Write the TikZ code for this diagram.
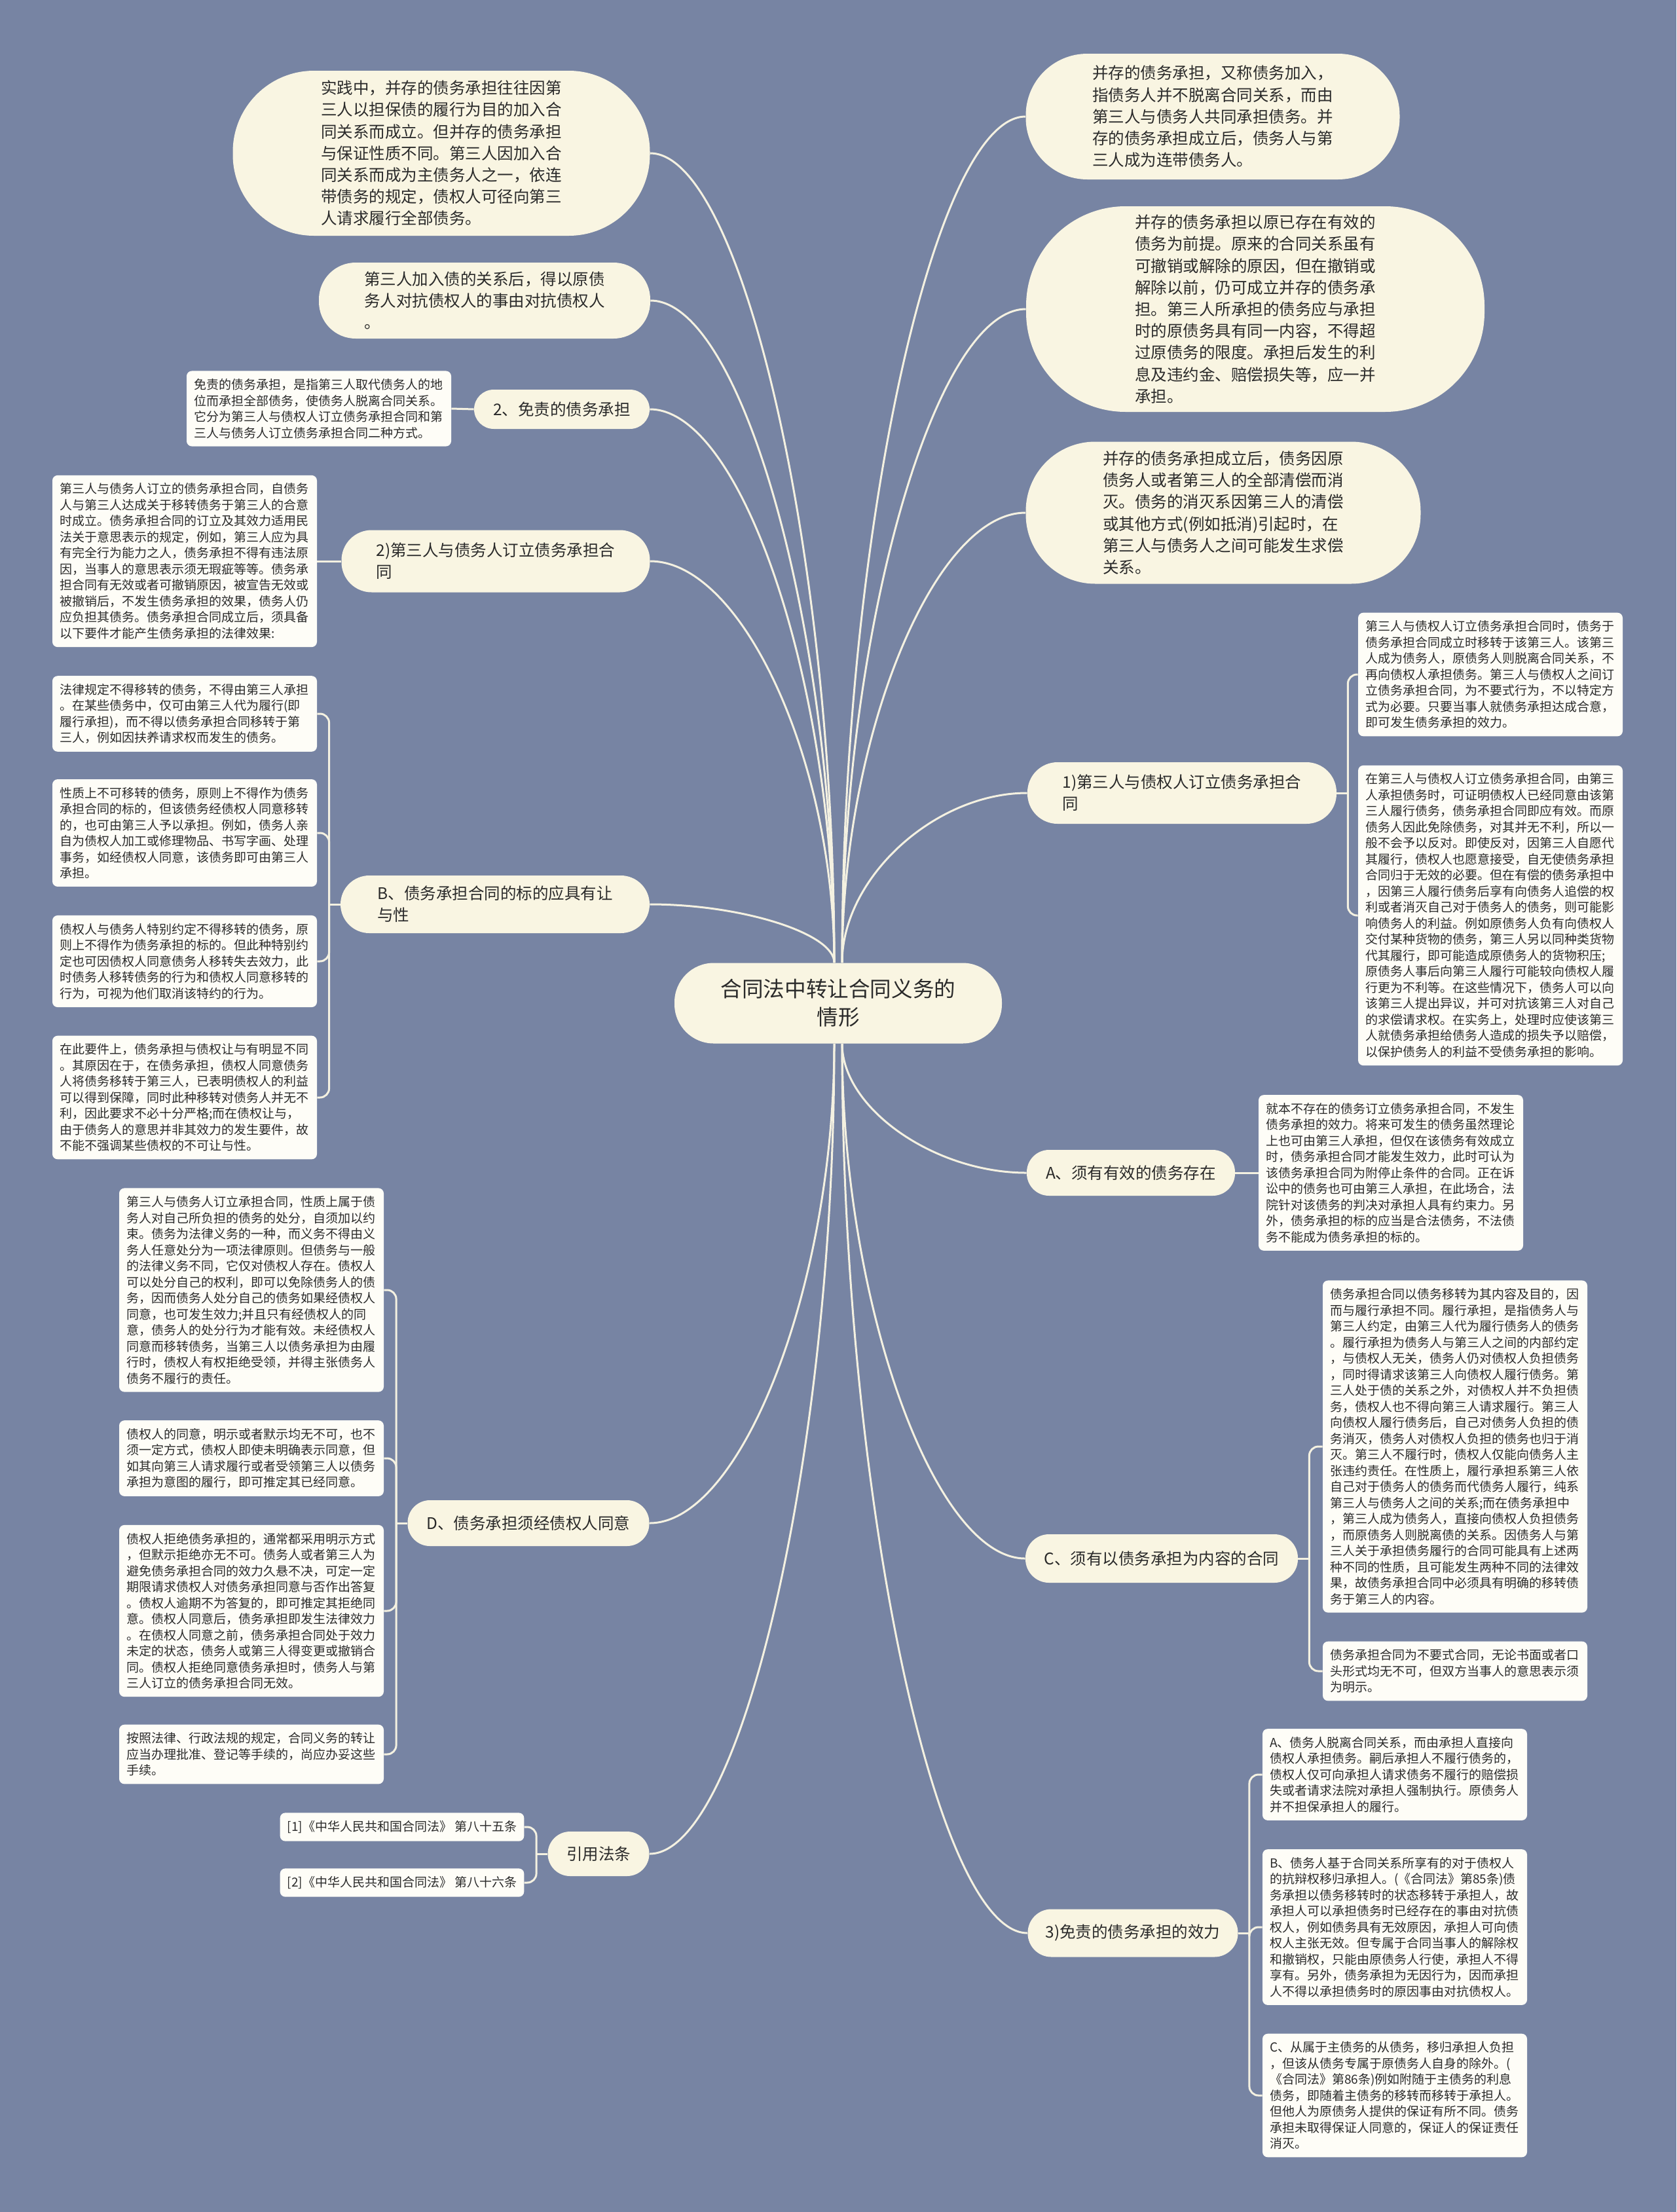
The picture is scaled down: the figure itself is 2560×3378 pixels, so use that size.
\documentclass[tikz,border=0pt]{standalone}
\usepackage{fontspec}
\setmainfont{Noto Sans CJK SC}
\usetikzlibrary{calc}
\definecolor{bgc}{HTML}{7784A3}
\definecolor{cream}{HTML}{F9F5E2}
\definecolor{leafc}{HTML}{FEFDF7}
\definecolor{linec}{HTML}{F4F1E1}
\definecolor{txt}{HTML}{2A2A2A}
\pgfdeclarelayer{bg}
\pgfsetlayers{bg,main}
\newcommand{\mmlink}[2]{\draw[conn] (#1) .. controls ($(#1)!0.5!(#1|-#2)$) and ($(#1|-#2)!0.5!(#2)$) .. (#2);}
\begin{document}
\begin{tikzpicture}[x=0.5pt,y=-0.5pt,
  conn/.style={draw=linec, line width=1.5pt},
  leaf/.style={fill=leafc, rounded corners=4pt, align=left, text width=191pt, inner xsep=5.5pt, inner ysep=6pt, text=txt, font=\fontsize{9.5}{12.25}\selectfont},
  cite/.style={fill=leafc, rounded corners=4pt, align=left, inner xsep=5.5pt, inner ysep=6pt, text=txt, font=\fontsize{9.5}{12.25}\selectfont},
  bubble/.style={fill=cream, align=left, text=txt, font=\fontsize{12.25}{16.6}\selectfont, inner sep=0pt},
  branch/.style={fill=cream, align=left, text=txt, font=\fontsize{12.25}{16.5}\selectfont, inner sep=0pt},
]
\begin{pgfonlayer}{bg}
\fill[bgc] (0,0) rectangle (2560,3378);
\end{pgfonlayer}
\useasboundingbox (0,0) rectangle (2560,3378);

% central
\node[fill=cream, align=center, text=txt, font=\fontsize{16.3}{21.5}\selectfont, inner sep=0pt, minimum width=250pt, minimum height=61.5pt, rounded corners=30pt] (C) at (1280,1532) {合同法中转让合同义务的\\情形};

% right bubbles
\node[bubble, minimum width=285.5pt, minimum height=96pt, rounded corners=47pt] (R1) at (1852,178) {并存的债务承担，又称债务加入，\\指债务人并不脱离合同关系，而由\\第三人与债务人共同承担债务。并\\存的债务承担成立后，债务人与第\\三人成为连带债务人。};
\node[bubble, minimum width=350pt, minimum height=157pt, rounded corners=76pt] (R2) at (1917,472) {并存的债务承担以原已存在有效的\\债务为前提。原来的合同关系虽有\\可撤销或解除的原因，但在撤销或\\解除以前，仍可成立并存的债务承\\担。第三人所承担的债务应与承担\\时的原债务具有同一内容，不得超\\过原债务的限度。承担后发生的利\\息及违约金、赔偿损失等，应一并\\承担。};
\node[bubble, minimum width=301.5pt, minimum height=108.5pt, rounded corners=53pt] (R3) at (1868,783) {并存的债务承担成立后，债务因原\\债务人或者第三人的全部清偿而消\\灭。债务的消灭系因第三人的清偿\\或其他方式(例如抵消)引起时，在\\第三人与债务人之间可能发生求偿\\关系。};

% left bubbles
\node[bubble, minimum width=318.5pt, minimum height=126pt, rounded corners=62pt] (L1) at (674,234) {实践中，并存的债务承担往往因第\\三人以担保债的履行为目的加入合\\同关系而成立。但并存的债务承担\\与保证性质不同。第三人因加入合\\同关系而成为主债务人之一，依连\\带债务的规定，债权人可径向第三\\人请求履行全部债务。};
\node[bubble, minimum width=253pt, minimum height=58pt, rounded corners=28pt] (L2) at (740,459) {第三人加入债的关系后，得以原债\\务人对抗债权人的事由对抗债权人\\。};

% branch nodes
\node[branch, minimum width=236pt, minimum height=47pt, rounded corners=23pt] (R4) at (1805,1211) {1)第三人与债权人订立债务承担合\\同};
\node[branch, minimum width=159pt, minimum height=35pt, rounded corners=17pt] (R5) at (1727,1791) {A、须有有效的债务存在};
\node[branch, minimum width=208pt, minimum height=37pt, rounded corners=18pt] (R6) at (1774,2380) {C、须有以债务承担为内容的合同};
\node[branch, minimum width=160.5pt, minimum height=36.5pt, rounded corners=18pt] (R7) at (1730,2952) {3)免责的债务承担的效力};
\node[branch, minimum width=134pt, minimum height=30pt, rounded corners=15pt] (L3) at (858,625) {2、免责的债务承担};
\node[branch, minimum width=235.5pt, minimum height=47.5pt, rounded corners=23pt] (L4) at (757,857) {2)第三人与债务人订立债务承担合\\同};
\node[branch, minimum width=236pt, minimum height=44pt, rounded corners=22pt] (L5) at (756,1381) {B、债务承担合同的标的应具有让\\与性};
\node[branch, minimum width=184.5pt, minimum height=35pt, rounded corners=17pt] (L6) at (807,2326) {D、债务承担须经债权人同意};
\node[branch, minimum width=77.5pt, minimum height=34pt, rounded corners=17pt] (L7) at (914,2831) {引用法条};

% right leaves
\node[leaf] (R4a) at (2276,1030) {第三人与债权人订立债务承担合同时，债务于\\债务承担合同成立时移转于该第三人。该第三\\人成为债务人，原债务人则脱离合同关系，不\\再向债权人承担债务。第三人与债权人之间订\\立债务承担合同，为不要式行为，不以特定方\\式为必要。只要当事人就债务承担达成合意，\\即可发生债务承担的效力。};
\node[leaf] (R4b) at (2276,1398) {在第三人与债权人订立债务承担合同，由第三\\人承担债务时，可证明债权人已经同意由该第\\三人履行债务，债务承担合同即应有效。而原\\债务人因此免除债务，对其并无不利，所以一\\般不会予以反对。即使反对，因第三人自愿代\\其履行，债权人也愿意接受，自无使债务承担\\合同归于无效的必要。但在有偿的债务承担中\\，因第三人履行债务后享有向债务人追偿的权\\利或者消灭自己对于债务人的债务，则可能影\\响债务人的利益。例如原债务人负有向债权人\\交付某种货物的债务，第三人另以同种类货物\\代其履行，即可能造成原债务人的货物积压;\\原债务人事后向第三人履行可能较向债权人履\\行更为不利等。在这些情况下，债务人可以向\\该第三人提出异议，并可对抗该第三人对自己\\的求偿请求权。在实务上，处理时应使该第三\\人就债务承担给债务人造成的损失予以赔偿，\\以保护债务人的利益不受债务承担的影响。};
\node[leaf] (R5a) at (2124,1791) {就本不存在的债务订立债务承担合同，不发生\\债务承担的效力。将来可发生的债务虽然理论\\上也可由第三人承担，但仅在该债务有效成立\\时，债务承担合同才能发生效力，此时可认为\\该债务承担合同为附停止条件的合同。正在诉\\讼中的债务也可由第三人承担，在此场合，法\\院针对该债务的判决对承担人具有约束力。另\\外，债务承担的标的应当是合法债务，不法债\\务不能成为债务承担的标的。};
\node[leaf] (R6a) at (2222,2209) {债务承担合同以债务移转为其内容及目的，因\\而与履行承担不同。履行承担，是指债务人与\\第三人约定，由第三人代为履行债务人的债务\\。履行承担为债务人与第三人之间的内部约定\\，与债权人无关，债务人仍对债权人负担债务\\，同时得请求该第三人向债权人履行债务。第\\三人处于债的关系之外，对债权人并不负担债\\务，债权人也不得向第三人请求履行。第三人\\向债权人履行债务后，自己对债务人负担的债\\务消灭，债务人对债权人负担的债务也归于消\\灭。第三人不履行时，债权人仅能向债务人主\\张违约责任。在性质上，履行承担系第三人依\\自己对于债务人的债务而代债务人履行，纯系\\第三人与债务人之间的关系;而在债务承担中\\，第三人成为债务人，直接向债权人负担债务\\，而原债务人则脱离债的关系。因债务人与第\\三人关于承担债务履行的合同可能具有上述两\\种不同的性质，且可能发生两种不同的法律效\\果，故债务承担合同中必须具有明确的移转债\\务于第三人的内容。};
\node[leaf] (R6b) at (2222,2552) {债务承担合同为不要式合同，无论书面或者口\\头形式均无不可，但双方当事人的意思表示须\\为明示。};
\node[leaf] (R7a) at (2130,2710) {A、债务人脱离合同关系，而由承担人直接向\\债权人承担债务。嗣后承担人不履行债务的，\\债权人仅可向承担人请求债务不履行的赔偿损\\失或者请求法院对承担人强制执行。原债务人\\并不担保承担人的履行。};
\node[leaf] (R7b) at (2130,2943) {B、债务人基于合同关系所享有的对于债权人\\的抗辩权移归承担人。(《合同法》第85条)债\\务承担以债务移转时的状态移转于承担人，故\\承担人可以承担债务时已经存在的事由对抗债\\权人，例如债务具有无效原因，承担人可向债\\权人主张无效。但专属于合同当事人的解除权\\和撤销权，只能由原债务人行使，承担人不得\\享有。另外，债务承担为无因行为，因而承担\\人不得以承担债务时的原因事由对抗债权人。};
\node[leaf] (R7c) at (2130,3200) {C、从属于主债务的从债务，移归承担人负担\\，但该从债务专属于原债务人自身的除外。(\\《合同法》第86条)例如附随于主债务的利息\\债务，即随着主债务的移转而移转于承担人。\\但他人为原债务人提供的保证有所不同。债务\\承担未取得保证人同意的，保证人的保证责任\\消灭。};

% left leaves
\node[leaf] (L3a) at (487,624) {免责的债务承担，是指第三人取代债务人的地\\位而承担全部债务，使债务人脱离合同关系。\\它分为第三人与债权人订立债务承担合同和第\\三人与债务人订立债务承担合同二种方式。};
\node[leaf] (L4a) at (282,857) {第三人与债务人订立的债务承担合同，自债务\\人与第三人达成关于移转债务于第三人的合意\\时成立。债务承担合同的订立及其效力适用民\\法关于意思表示的规定，例如，第三人应为具\\有完全行为能力之人，债务承担不得有违法原\\因，当事人的意思表示须无瑕疵等等。债务承\\担合同有无效或者可撤销原因，被宣告无效或\\被撤销后，不发生债务承担的效果，债务人仍\\应负担其债务。债务承担合同成立后，须具备\\以下要件才能产生债务承担的法律效果:};
\node[leaf] (b1) at (282,1090) {法律规定不得移转的债务，不得由第三人承担\\。在某些债务中，仅可由第三人代为履行(即\\履行承担)，而不得以债务承担合同移转于第\\三人，例如因扶养请求权而发生的债务。};
\node[leaf] (b2) at (282,1272) {性质上不可移转的债务，原则上不得作为债务\\承担合同的标的，但该债务经债权人同意移转\\的，也可由第三人予以承担。例如，债务人亲\\自为债权人加工或修理物品、书写字画、处理\\事务，如经债权人同意，该债务即可由第三人\\承担。};
\node[leaf] (b3) at (282,1468) {债权人与债务人特别约定不得移转的债务，原\\则上不得作为债务承担的标的。但此种特别约\\定也可因债权人同意债务人移转失去效力，此\\时债务人移转债务的行为和债权人同意移转的\\行为，可视为他们取消该特约的行为。};
\node[leaf] (b4) at (282,1676) {在此要件上，债务承担与债权让与有明显不同\\。其原因在于，在债务承担，债权人同意债务\\人将债务移转于第三人，已表明债权人的利益\\可以得到保障，同时此种移转对债务人并无不\\利，因此要求不必十分严格;而在债权让与，\\由于债务人的意思并非其效力的发生要件，故\\不能不强调某些债权的不可让与性。};
\node[leaf] (d1) at (384,1970) {第三人与债务人订立承担合同，性质上属于债\\务人对自己所负担的债务的处分，自须加以约\\束。债务为法律义务的一种，而义务不得由义\\务人任意处分为一项法律原则。但债务与一般\\的法律义务不同，它仅对债权人存在。债权人\\可以处分自己的权利，即可以免除债务人的债\\务，因而债务人处分自己的债务如果经债权人\\同意，也可发生效力;并且只有经债权人的同\\意，债务人的处分行为才能有效。未经债权人\\同意而移转债务，当第三人以债务承担为由履\\行时，债权人有权拒绝受领，并得主张债务人\\债务不履行的责任。};
\node[leaf] (d2) at (384,2227) {债权人的同意，明示或者默示均无不可，也不\\须一定方式，债权人即使未明确表示同意，但\\如其向第三人请求履行或者受领第三人以债务\\承担为意图的履行，即可推定其已经同意。};
\node[leaf] (d3) at (384,2460) {债权人拒绝债务承担的，通常都采用明示方式\\，但默示拒绝亦无不可。债务人或者第三人为\\避免债务承担合同的效力久悬不决，可定一定\\期限请求债权人对债务承担同意与否作出答复\\。债权人逾期不为答复的，即可推定其拒绝同\\意。债权人同意后，债务承担即发生法律效力\\。在债权人同意之前，债务承担合同处于效力\\未定的状态，债务人或第三人得变更或撤销合\\同。债权人拒绝同意债务承担时，债务人与第\\三人订立的债务承担合同无效。};
\node[leaf] (d4) at (384,2679) {按照法律、行政法规的规定，合同义务的转让\\应当办理批准、登记等手续的，尚应办妥这些\\手续。};
\node[cite] (c1) at (614,2790) {[1]《中华人民共和国合同法》 第八十五条};
\node[cite] (c2) at (614,2875) {[2]《中华人民共和国合同法》 第八十六条};

\begin{pgfonlayer}{bg}
\coordinate (cnr) at ([xshift=3pt]C.north);
\coordinate (cnl) at ([xshift=-3pt]C.north);
\coordinate (csr) at ([xshift=3pt]C.south);
\coordinate (csl) at ([xshift=-3pt]C.south);
\foreach \t in {R1,R2,R3,R4} {\mmlink{cnr}{\t.west}}
\foreach \t in {L1,L2,L3,L4,L5} {\mmlink{cnl}{\t.east}}
\foreach \t in {R5,R6,R7} {\mmlink{csr}{\t.west}}
\foreach \t in {L6,L7} {\mmlink{csl}{\t.east}}

\draw[conn] (L3.west) -- (L3a.east);
\draw[conn] (L4.west) -- (L4a.east);
\draw[conn] (R5.east) -- (R5a.west);

\coordinate (sR4) at ([xshift=8.5pt]R4.east);
\draw[conn] (R4.east) -- (sR4);
\foreach \t in {R4a,R4b} \draw[conn,rounded corners=7pt] (sR4) |- (\t.west);
\coordinate (sR6) at ([xshift=8.5pt]R6.east);
\draw[conn] (R6.east) -- (sR6);
\foreach \t in {R6a,R6b} \draw[conn,rounded corners=7pt] (sR6) |- (\t.west);
\coordinate (sR7) at ([xshift=8.5pt]R7.east);
\draw[conn] (R7.east) -- (sR7);
\foreach \t in {R7a,R7b,R7c} \draw[conn,rounded corners=7pt] (sR7) |- (\t.west);
\coordinate (sL5) at ([xshift=-8.5pt]L5.west);
\draw[conn] (L5.west) -- (sL5);
\foreach \t in {b1,b2,b3,b4} \draw[conn,rounded corners=7pt] (sL5) |- (\t.east);
\coordinate (sL6) at ([xshift=-8.5pt]L6.west);
\draw[conn] (L6.west) -- (sL6);
\foreach \t in {d1,d2,d3,d4} \draw[conn,rounded corners=7pt] (sL6) |- (\t.east);
\coordinate (sL7) at ([xshift=-8.5pt]L7.west);
\draw[conn] (L7.west) -- (sL7);
\foreach \t in {c1,c2} \draw[conn,rounded corners=7pt] (sL7) |- (\t.east);
\end{pgfonlayer}
\end{tikzpicture}
\end{document}
